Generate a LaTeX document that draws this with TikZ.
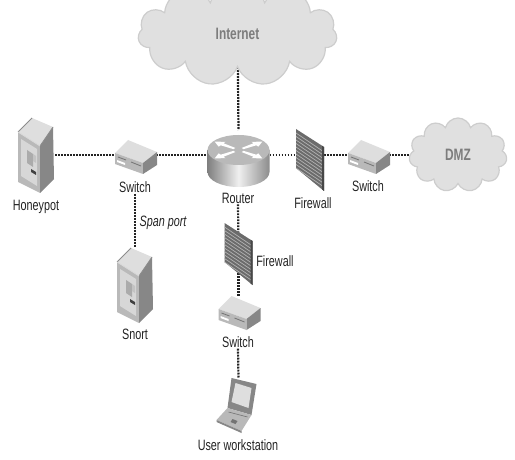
\documentclass[tikz,border=0pt]{standalone}
\usepackage{fontspec}
\setmainfont[FakeStretch=0.72]{Liberation Sans}
\usetikzlibrary{shapes.symbols, backgrounds}
\definecolor{linkgray}{RGB}{35,35,35}
\definecolor{cloudfill}{RGB}{224,224,224}
\definecolor{cloudedge}{RGB}{205,205,205}
\definecolor{cloudtext}{RGB}{125,125,125}
\definecolor{devlight}{RGB}{222,222,222}
\definecolor{devmid}{RGB}{185,185,185}
\definecolor{devdark}{RGB}{135,135,135}
\tikzset{
  devbox/.style={inner sep=0pt, outer sep=0pt},
  link/.style={linkgray, line width=2.2pt, dash pattern=on 1.8pt off 1.2pt},
  lbl/.style={text=linkgray, font=\fontsize{15}{17}\selectfont, inner sep=1pt},
  netcloud/.style={cloud, cloud puffs=11, cloud ignores aspect, draw=cloudedge, fill=cloudfill,
    line width=1.2pt, text=cloudtext, font=\fontsize{16.5}{18}\selectfont\bfseries, inner sep=0pt},
  % ---- device drawings ----
  serverpic/.pic={
    \fill[devlight] (-18,-23) -- (-4,-37) -- (17,-28) -- (4,-9) -- cycle;
    \fill[devmid] (-18,-23) -- (4,-9) -- (4,38) -- (-18,27) -- cycle;
    \fill[devdark] (4,-9) -- (17,-28) -- (18,24) -- (4,38) -- cycle;
    \fill[devlight!80!devmid] (-15,-16) -- (1,-6) -- (1,31) -- (-15,21) -- cycle;
    \fill[devdark!70] (-9,-5) -- (-3,-1) -- (-3,12) -- (-9,8) -- cycle;
    \fill[devdark!50] (-3,-1) -- (0,1) -- (0,8) -- (-3,6) -- cycle;
    \fill[black!75] (-5,14) -- (0,17) -- (0,20) -- (-5,17) -- cycle;
    \draw[black!45, line width=.8pt] (-18,-23) -- (-4,-37) (4,-9) -- (17,-28);
    \draw[white!85!black, line width=.8pt] (-18,-23) -- (4,-9);
  },
  switchpic/.pic={
    \fill[devlight] (-20,-2) -- (-7,-15) -- (22,-3) -- (8,8) -- cycle;
    \fill[devmid] (-20,-2) -- (8,8) -- (8,19) -- (-20,9) -- cycle;
    \fill[devdark] (8,8) -- (22,-3) -- (22,10) -- (8,19) -- cycle;
    \draw[black!55, line width=.8pt] (-17,2) -- (-9,5) (-4,7) -- (6,11);
    \fill[white] (-18,5) -- (-10,8) -- (-10,10) -- (-18,7) -- cycle;
  },
  routerpic/.pic={
    \shade[left color=black!50, right color=black!45, middle color=black!6]
      (-31,-5) -- (-31,17) arc[x radius=31, y radius=15, start angle=180, end angle=0] -- (31,-5) -- cycle;
    \fill[devmid] (0,-5) ellipse[x radius=31, y radius=15];
    \foreach \ang in {35,145,215,325} {
      \begin{scope}[shift={(0,-5)}, yscale=.5, rotate=\ang]
        \fill[white] (5,-1.5) -- (20,-2.5) -- (20,-6) -- (29,0) -- (20,6) -- (20,2.5) -- (5,1.5) -- cycle;
      \end{scope}
    }
  },
  firewallpic/.pic={
    \fill[black!58] (-14,-26) -- (14,-8) -- (14,36) -- (-14,13) -- cycle;
    \foreach \drop in {-22,-18.5,...,13} {
      \draw[black!30, line width=.7pt] (-14,\drop) -- (14,\drop+19);
    }
    \fill[black!72] (12,-9.3) -- (14,-8) -- (14,36) -- (12,34.4) -- cycle;
  },
  laptoppic/.pic={
    \fill[devdark] (-7,-27) -- (18,-21) -- (13,10) -- (-11,3) -- cycle;
    \fill[devlight] (-3,-22) -- (13,-17) -- (10,3) -- (-7,-3) -- cycle;
    \fill[devmid] (-11,3) -- (13,10) -- (3,26) -- (-22,15) -- cycle;
    \fill[devdark] (-22,15) -- (3,26) -- (3,28) -- (-22,17) -- cycle;
    \fill[black!55] (-6,14) -- (-1,16) -- (-3,19) -- (-8,17) -- cycle;
    \draw[black!55, line width=.6pt] (-10,7) -- (9,12);
  },
}
\begin{document}
\begin{tikzpicture}[x=1pt, y=-1pt]
  \useasboundingbox (0,0) rectangle (515,460);

  % ---- Clouds ----
  \node[netcloud, minimum width=199pt, minimum height=104pt] (internet) at (237.5,34) {Internet};
  \node[netcloud, minimum width=98pt, minimum height=74pt] (dmz) at (458,155) {DMZ};

  % ---- Devices ----
  \node[devbox, minimum width=38pt, minimum height=70pt] (honeypot) at (36,155) {};
  \node[devbox, minimum width=42pt, minimum height=30pt] (switchA) at (135,155) {};
  \node[devbox, minimum width=62pt, minimum height=50pt] (router) at (238.5,155) {};
  \node[devbox, minimum width=28pt, minimum height=50pt] (firewallA) at (310,155) {};
  \node[devbox, minimum width=42pt, minimum height=30pt] (switchB) at (368,155) {};
  \node[devbox, minimum width=38pt, minimum height=76pt] (snort) at (135,285) {};
  \node[devbox, minimum width=28pt, minimum height=50pt] (firewallB) at (238.5,249) {};
  \node[devbox, minimum width=42pt, minimum height=30pt] (switchC) at (238.5,311) {};
  \node[devbox, minimum width=42pt, minimum height=54pt] (laptop) at (238.5,405) {};

  \pic at (honeypot) {serverpic};
  \pic at (snort) {serverpic};
  \pic at (switchA) {switchpic};
  \pic at (switchB) {switchpic};
  \pic at (switchC) {switchpic};
  \pic at (router) {routerpic};
  \pic at (firewallA) {firewallpic};
  \pic at (firewallB) {firewallpic};
  \pic at (laptop) {laptoppic};

  % ---- Labels ----
  \node[lbl] (honeypotlbl) at (36,207) {Honeypot};
  \node[lbl] (switchAlbl) at (135,187) {Switch};
  \node[lbl] (routerlbl) at (238,198) {Router};
  \node[lbl] (firewallAlbl) at (313,203) {Firewall};
  \node[lbl] (switchBlbl) at (368,186) {Switch};
  \node[lbl, font=\fontsize{15}{17}\selectfont\itshape] (spanlbl) at (163,223) {Span port};
  \node[lbl] (snortlbl) at (135,334) {Snort};
  \node[lbl] (firewallBlbl) at (275,261) {Firewall};
  \node[lbl] (switchClbl) at (238,342) {Switch};
  \node[lbl] (laptoplbl) at (238,445) {User workstation};

  % ---- Dotted links ----
  \begin{scope}[on background layer]
    \draw[link] (internet.center) -- (router.north);
    \draw[link] (honeypot.east) -- (switchA.west);
    \draw[link] (switchA.east) -- (router.west);
    \draw[link] (router.east) -- (firewallA.west);
    \draw[link] (firewallA.east) -- (switchB.west);
    \draw[link] (switchB.east) -- (dmz.center);
    \draw[link] (switchAlbl.south) -- (snort.north);
    \draw[link] (routerlbl.south) -- (firewallB.center);
    \draw[link] (firewallB.center) -- (switchC.north);
    \draw[link] (switchClbl.south) -- (laptop.north);
  \end{scope}
\end{tikzpicture}
\end{document}
